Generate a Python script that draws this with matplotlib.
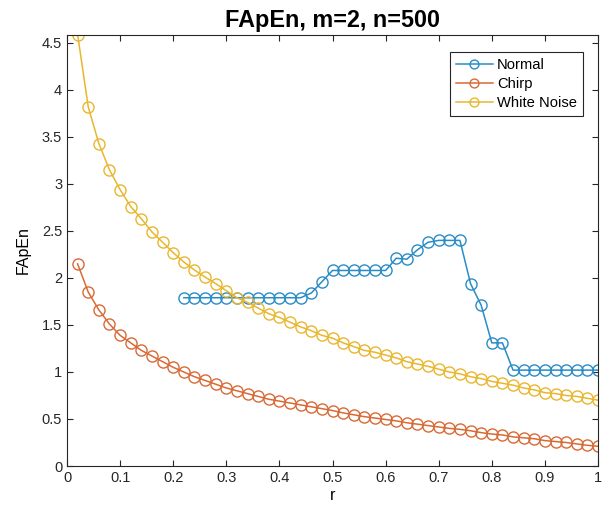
import numpy as np
import matplotlib
matplotlib.use("Agg")
import matplotlib.pyplot as plt

plt.rcParams['font.family'] = ['Liberation Sans', 'DejaVu Sans']

# r values, step 0.02
r_all = np.round(np.arange(1, 51) * 0.02, 2)
r_normal = r_all[10:]  # Normal starts at r = 0.22

normal = [1.79, 1.79, 1.79, 1.79, 1.79, 1.79, 1.79, 1.79, 1.79, 1.79, 1.79, 1.79,
          1.84, 1.96, 2.08, 2.08, 2.08, 2.08, 2.08, 2.08, 2.21, 2.20, 2.30, 2.38,
          2.40, 2.40, 2.40, 1.94, 1.71, 1.31, 1.31, 1.02, 1.02, 1.02, 1.02, 1.02,
          1.02, 1.02, 1.02, 1.02]

chirp = [2.15, 1.85, 1.66, 1.51, 1.39, 1.31, 1.23, 1.17, 1.11, 1.05,
         1.00, 0.95, 0.91, 0.87, 0.83, 0.80, 0.77, 0.74, 0.71, 0.69,
         0.67, 0.65, 0.63, 0.61, 0.59, 0.565, 0.545, 0.525, 0.51, 0.495,
         0.48, 0.46, 0.445, 0.43, 0.415, 0.40, 0.39, 0.375, 0.355, 0.34,
         0.33, 0.31, 0.30, 0.29, 0.27, 0.26, 0.25, 0.235, 0.22, 0.21]

white_noise = [4.59, 3.82, 3.43, 3.15, 2.94, 2.76, 2.63, 2.49, 2.38, 2.27,
               2.17, 2.085, 2.01, 1.94, 1.865, 1.79, 1.74, 1.68, 1.62, 1.58,
               1.53, 1.48, 1.44, 1.39, 1.36, 1.31, 1.27, 1.23, 1.21, 1.18,
               1.15, 1.11, 1.085, 1.06, 1.03, 1.00, 0.98, 0.95, 0.93, 0.90,
               0.88, 0.86, 0.83, 0.81, 0.78, 0.77, 0.75, 0.74, 0.72, 0.70]

colors = ['#2a8cc6', '#d86a36', '#e9b62e']

fig = plt.figure(figsize=(6.1, 5.18), dpi=100)
ax = fig.add_axes([67 / 610, 1 - 466 / 518, 531 / 610, 431 / 518])

style = dict(marker='o', markerfacecolor='none', markersize=8, linewidth=1.1, markeredgewidth=1.0)
ax.plot(r_normal, normal, color=colors[0], label='Normal', **style)
ax.plot(r_all, chirp, color=colors[1], label='Chirp', **style)
ax.plot(r_all, white_noise, color=colors[2], label='White Noise', **style)

ax.set_xlim(0, 1)
ax.set_ylim(0, 4.585)
ax.set_xticks(np.arange(0, 1.01, 0.1))
ax.set_xticklabels(['0', '0.1', '0.2', '0.3', '0.4', '0.5', '0.6', '0.7', '0.8', '0.9', '1'])
ax.set_yticks(np.arange(0, 4.51, 0.5))
ax.set_yticklabels(['0', '0.5', '1', '1.5', '2', '2.5', '3', '3.5', '4', '4.5'])
ax.tick_params(direction='in', top=True, right=True, labelsize=10.5, colors='#262626',
               length=4, width=0.8)
for s in ax.spines.values():
    s.set_color('#262626')
    s.set_linewidth(0.8)

ax.set_title('FApEn, m=2, n=500', fontsize=16.8, fontweight='bold', pad=6)
ax.set_xlabel('r', fontsize=11.5, labelpad=2)
ax.set_ylabel('FApEn', fontsize=11.5, labelpad=8)

leg = ax.legend(loc='upper right', bbox_to_anchor=(0.972, 0.961), borderaxespad=0,
                fontsize=10.6, fancybox=False, framealpha=1, edgecolor='#262626',
                handlelength=2.5, borderpad=0.4, labelspacing=0.35, handletextpad=0.3,
                markerscale=0.8)
leg.get_frame().set_linewidth(0.8)

fig.savefig('out.png', dpi=100)
